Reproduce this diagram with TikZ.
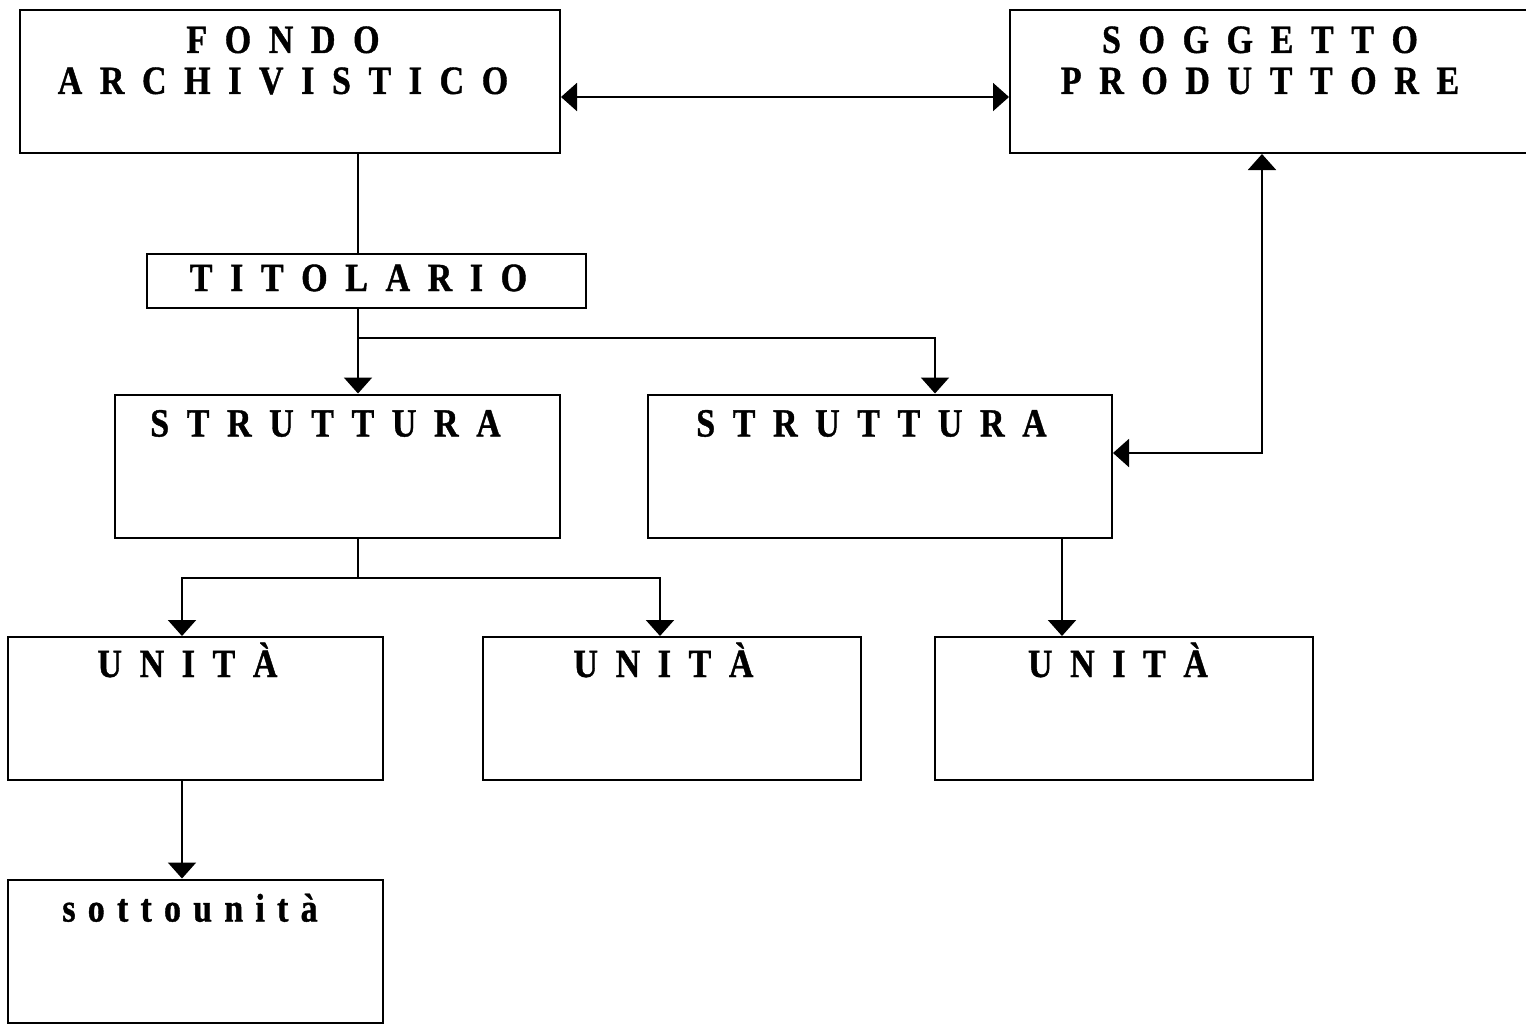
\documentclass[tikz,border=0pt]{standalone}
\usepackage{fontspec}
\newfontfamily\boxfont[FakeStretch=0.85,BoldFeatures={FakeBold=1}]{Liberation Serif}
\usetikzlibrary{arrows.meta,calc}

\tikzset{
    box/.style={draw,line width=1pt,minimum height=71.5pt,inner sep=0pt},
    lab/.style={inner sep=0pt,align=center,
        font=\boxfont\bfseries\fontsize{20}{20.5}\selectfont,
        execute at begin node={\spaceskip=8.8pt\relax}},
    link/.style={line width=1pt},
    arr/.style={link,-{Triangle[length=8pt,width=14pt]}},
    arrboth/.style={link,{Triangle[length=8pt,width=14pt]}-{Triangle[length=8pt,width=14pt]}},
}

\begin{document}
\begin{tikzpicture}[x=0.5pt,y=-0.5pt]

            \useasboundingbox (0,0) rectangle (1526,1025);

            % Boxes
            \node[box,minimum width=270pt] (fondo) at (290,81.5) {};
            \node[box,minimum width=260pt] (sogg) at (1270,81.5) {};
            \node[box,minimum width=219.5pt,minimum height=27pt] (titolario) at (366.5,281) {};
            \node[box,minimum width=222.5pt] (struttA) at (337.5,466) {};
            \node[box,minimum width=232pt] (struttB) at (880,466) {};
            \node[box,minimum width=187.5pt] (unitaA) at (195.5,708.5) {};
            \node[box,minimum width=189pt] (unitaB) at (672,708.5) {};
            \node[box,minimum width=189pt] (unitaC) at (1124,708.5) {};
            \node[box,minimum width=187.5pt] (sotto) at (195.5,951) {};

            % Titles
            \node[lab,anchor=north] (fondoT) at ($(fondo.north)+(-7,17)$) {F O N D O\\A R C H I V I S T I C O};
            \node[lab,anchor=north] (soggT) at ($(sogg.north)+(-10,17)$) {S O G G E T T O\\P R O D U T T O R E};
            \node[lab,anchor=base] (titolarioT) at ($(titolario.north)+(-8,38)$) {T I T O L A R I O};
            \node[lab,anchor=base] (struttAT) at ($(struttA.north)+(-12,43)$) {S T R U T T U R A};
            \node[lab,anchor=base] (struttBT) at ($(struttB.north)+(-8.5,43)$) {S T R U T T U R A};
            \node[lab,anchor=base] (unitaAT) at ($(unitaA.north)+(-8,41)$) {U N I T À};
            \node[lab,anchor=base] (unitaBT) at ($(unitaB.north)+(-8.5,41)$) {U N I T À};
            \node[lab,anchor=base] (unitaCT) at ($(unitaC.north)+(-6,41)$) {U N I T À};
            \node[lab,anchor=base] (sottoT) at ($(sotto.north)+(-5.5,43)$) {\spaceskip=6.1pt\relax s o t t o u n i t à};

            % Junctions
            \coordinate (fS) at (0,97);
            \coordinate (tJ) at (358,338);
            \coordinate (tB) at (935,338);
            \coordinate (sJ) at (358,578);
            \coordinate (sA) at (182,578);
            \coordinate (sB) at (660,578);
            \coordinate (pJ) at (1262,453);
            \coordinate (cX) at (1062,0);

            % Connectors
            \draw[arrboth] (fondo.east |- fS) -- (sogg.west |- fS);
            \draw[link] (fondo.south -| tJ) -- (titolario.north -| tJ);
            \draw[arr] (titolario.south -| tJ) -- (struttA.north -| tJ);
            \draw[arr] (tJ) -- (tB) -- (struttB.north -| tB);
            \draw[arrboth] (sogg.south -| pJ) -- (pJ) -- (struttB.east |- pJ);
            \draw[link] (struttA.south -| sJ) -- (sJ);
            \draw[arr] (sJ) -- (sA) -- (unitaA.north -| sA);
            \draw[arr] (sJ) -- (sB) -- (unitaB.north -| sB);
            \draw[arr] (struttB.south -| cX) -- (unitaC.north -| cX);
            \draw[arr] (unitaA.south -| sA) -- (sotto.north -| sA);

\end{tikzpicture}
\end{document}
